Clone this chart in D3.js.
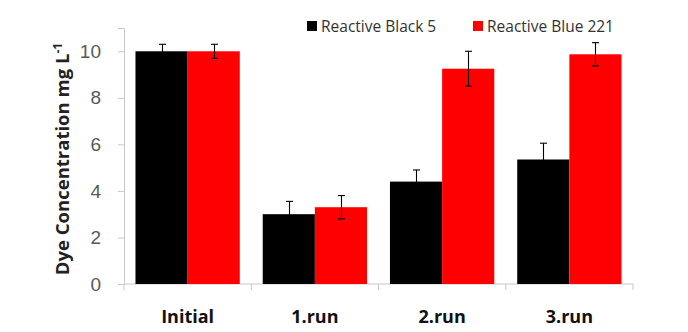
<!DOCTYPE html>
<html>
<head>
<meta charset="utf-8">
<script src="https://cdn.jsdelivr.net/npm/d3@7"></script>
<style>
  body { margin: 0; background: #fff; }
  svg { display: block; font-family: "Open Sans", sans-serif; }
</style>
</head>
<body>
<div id="chart"></div>
<script>
const categories = ['Initial', '1.run', '2.run', '3.run'];
const seriesNames = ['Reactive Black 5', 'Reactive Blue 221'];
const seriesColors = ['#000000', '#ff0000'];
const black5 = [10.0, 3.0, 4.4, 5.35];
const blue221 = [10.0, 3.3, 9.25, 9.87];
const black5Err = [0.3, 0.55, 0.5, 0.7];
const blue221Err = [0.3, 0.5, 0.75, 0.5];
const yTicks = [0, 2, 4, 6, 8, 10];

const W = 688, H = 332;
const m = { left: 124, right: 55, top: 28, bottom: 48 };

const svg = d3.select('#chart').append('svg')
    .attr('width', W).attr('height', H);

const x = d3.scaleBand().domain(categories).range([m.left, W - m.right]).paddingInner(0).paddingOuter(0);
const y = d3.scaleLinear().domain([0, 11]).range([H - m.bottom, m.top]);
const inner = d3.scaleBand().domain([0, 1]).range([0, x.bandwidth()]).paddingInner(0).paddingOuter(0.22);

// y axis
const yAxis = svg.append('g')
    .attr('transform', `translate(${m.left},0)`)
    .call(d3.axisLeft(y).tickValues(yTicks).tickSize(6).tickPadding(17));
yAxis.select('.domain').attr('stroke', '#c8c8c8');
yAxis.selectAll('.tick line').attr('stroke', '#c8c8c8');
yAxis.selectAll('.tick text').attr('fill', '#595959').attr('font-size', '19px');

// x axis
const xAxis = svg.append('g').attr('transform', `translate(0,${y(0)})`);
xAxis.append('line')
    .attr('x1', m.left).attr('x2', W - m.right)
    .attr('stroke', '#c8c8c8');
const bounds = categories.map(c => x(c)).concat([x(categories[categories.length - 1]) + x.bandwidth()]);
xAxis.selectAll('.xt').data(bounds).enter().append('line')
    .attr('x1', d => d).attr('x2', d => d).attr('y1', 0).attr('y2', 6)
    .attr('stroke', '#c8c8c8');
xAxis.selectAll('.xl').data(categories).enter().append('text')
    .attr('x', d => x(d) + x.bandwidth() / 2)
    .attr('y', 39)
    .attr('text-anchor', 'middle')
    .attr('font-size', '18px')
    .attr('font-weight', '700')
    .attr('fill', '#111')
    .text(d => d);

// bars
const series = [
    { values: black5, errs: black5Err },
    { values: blue221, errs: blue221Err }
];
series.forEach((s, si) => {
    const g = svg.append('g');
    g.selectAll('rect').data(categories).enter().append('rect')
        .attr('x', (c) => x(c) + inner(si))
        .attr('y', (c, i) => y(s.values[i]))
        .attr('width', inner.bandwidth())
        .attr('height', (c, i) => y(0) - y(s.values[i]))
        .attr('fill', seriesColors[si]);
});

// error bars
series.forEach((s, si) => {
    const g = svg.append('g').attr('stroke', '#000').attr('stroke-width', 1.1);
    categories.forEach((c, i) => {
        const cx = Math.round(x(c) + inner(si) + inner.bandwidth() / 2) + 0.5;
        const hi = y(s.values[i] + s.errs[i]);
        const lo = y(s.values[i] - s.errs[i]);
        g.append('line').attr('x1', cx).attr('x2', cx).attr('y1', hi).attr('y2', lo);
        g.append('line').attr('x1', cx - 3.5).attr('x2', cx + 3.5).attr('y1', hi).attr('y2', hi);
        g.append('line').attr('x1', cx - 3.5).attr('x2', cx + 3.5).attr('y1', lo).attr('y2', lo);
    });
});

// y title
const yt = svg.append('text')
    .attr('transform', `translate(69,${(y(0) + m.top) / 2 + 3}) rotate(-90)`)
    .attr('text-anchor', 'middle')
    .attr('font-size', '18.5px')
    .attr('font-weight', '700')
    .attr('fill', '#222');
yt.append('tspan').text('Dye Concentration mg L');
yt.append('tspan').attr('dy', -7).attr('font-size', '12px').text('-1');

// legend
const legendX = [307, 473];
seriesNames.forEach((n, i) => {
    const lg = svg.append('g').attr('transform', `translate(${legendX[i]},26)`);
    lg.append('rect').attr('x', 0).attr('y', -5).attr('width', 10).attr('height', 10).attr('fill', seriesColors[i]);
    lg.append('text').attr('x', 14).attr('y', 5.5).attr('font-size', '15.5px').attr('fill', '#333').text(n);
});
</script>
</body>
</html>
